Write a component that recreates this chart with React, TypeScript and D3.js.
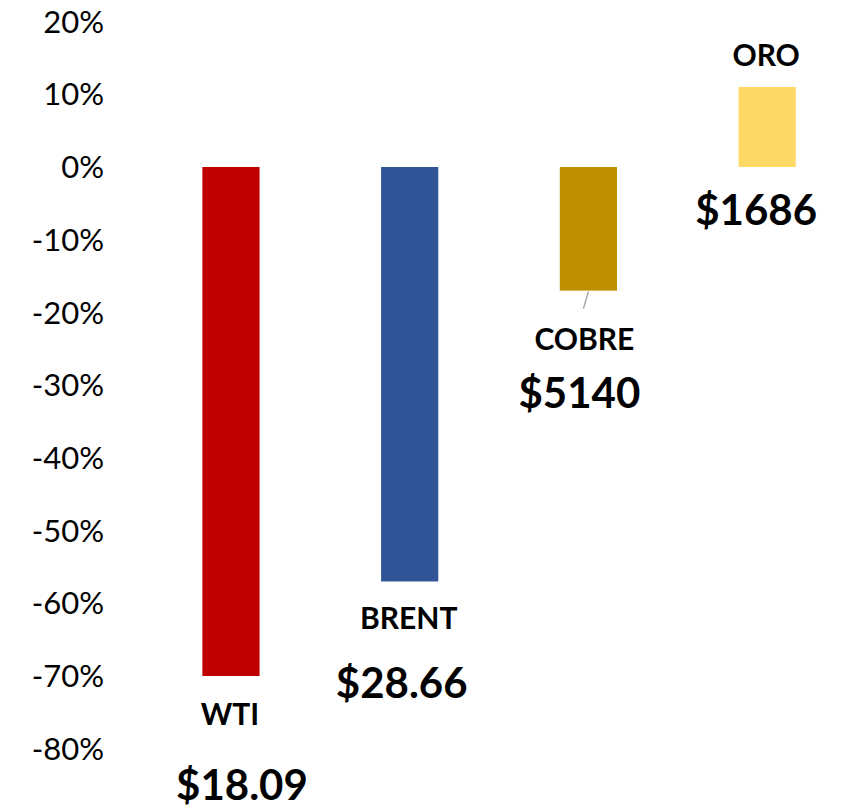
import React, { useEffect, useRef } from 'react';
import * as d3 from 'd3';

const categories = ['WTI', 'BRENT', 'COBRE', 'ORO'];
const changes = [-0.70, -0.57, -0.17, 0.11];
const prices = ['$18.09', '$28.66', '$5140', '$1686'];
const tickValues = [0.2, 0.1, 0, -0.1, -0.2, -0.3, -0.4, -0.5, -0.6, -0.7, -0.8];
const colors = ['#C00000', '#2F5597', '#BF9000', '#FFD966'];

// hand-placed label anchors (offset from bar centre, baseline y)
const nameLabels = [
  { dx: -1, y: 725 },
  { dx: -1, y: 629 },
  { dx: -4, y: 350 },
  { dx: -1, y: 66 },
];
const priceLabels = [
  { dx: 11, y: 800 },
  { dx: -8, y: 698 },
  { dx: -9, y: 408 },
  { dx: -11, y: 225 },
];

const W = 843;
const H = 809;

const App: React.FC = () => {
  const svgRef = useRef<SVGSVGElement>(null);

  useEffect(() => {
    if (!svgRef.current) return;
    const svg = d3.select(svgRef.current);
    svg.selectAll('*').remove();

    const font = 'Lato, Carlito, "Open Sans", sans-serif';

    const y = d3.scaleLinear().domain([-0.7, 0]).range([676, 167]);
    const x = d3.scaleBand<string>()
      .domain(categories)
      .range([141.6, 856.5])
      .paddingInner(0.68)
      .paddingOuter(0.34);

    // y tick labels (no axis line)
    svg.append('g')
      .selectAll('text')
      .data(tickValues)
      .enter()
      .append('text')
      .attr('x', 104)
      .attr('y', d => y(d))
      .attr('dy', '0.36em')
      .attr('text-anchor', 'end')
      .attr('font-family', font)
      .attr('font-size', 31)
      .attr('fill', '#000')
      .text(d => d3.format('.0%')(d).replace('−', '-'));

    // bars
    svg.append('g')
      .selectAll('rect')
      .data(changes)
      .enter()
      .append('rect')
      .attr('x', (d, i) => x(categories[i])!)
      .attr('width', x.bandwidth())
      .attr('y', d => y(Math.max(0, d)))
      .attr('height', d => Math.abs(y(d) - y(0)))
      .attr('fill', (d, i) => colors[i]);

    // leader line for COBRE
    const ci = 2;
    const cx = x(categories[ci])! + x.bandwidth() / 2;
    svg.append('line')
      .attr('x1', cx)
      .attr('y1', y(changes[ci]) + 1)
      .attr('x2', cx - 5)
      .attr('y2', y(changes[ci]) + 18)
      .attr('stroke', '#A6A6A6')
      .attr('stroke-width', 1.5);

    // category names
    svg.append('g')
      .selectAll('text')
      .data(categories)
      .enter()
      .append('text')
      .attr('x', (d, i) => x(d)! + x.bandwidth() / 2 + nameLabels[i].dx)
      .attr('y', (d, i) => nameLabels[i].y)
      .attr('text-anchor', 'middle')
      .attr('font-family', font)
      .attr('font-weight', 'bold')
      .attr('font-size', 30)
      .attr('fill', '#000')
      .text(d => d);

    // prices
    svg.append('g')
      .selectAll('text')
      .data(prices)
      .enter()
      .append('text')
      .attr('x', (d, i) => x(categories[i])! + x.bandwidth() / 2 + priceLabels[i].dx)
      .attr('y', (d, i) => priceLabels[i].y)
      .attr('text-anchor', 'middle')
      .attr('font-family', font)
      .attr('font-weight', 'bold')
      .attr('font-size', 42)
      .attr('fill', '#000')
      .text(d => d);
  }, []);

  return (
    <svg
      ref={svgRef}
      width={W}
      height={H}
      style={{ position: 'absolute', left: 0, top: 0, background: '#fff' }}
    />
  );
};

export default App;
